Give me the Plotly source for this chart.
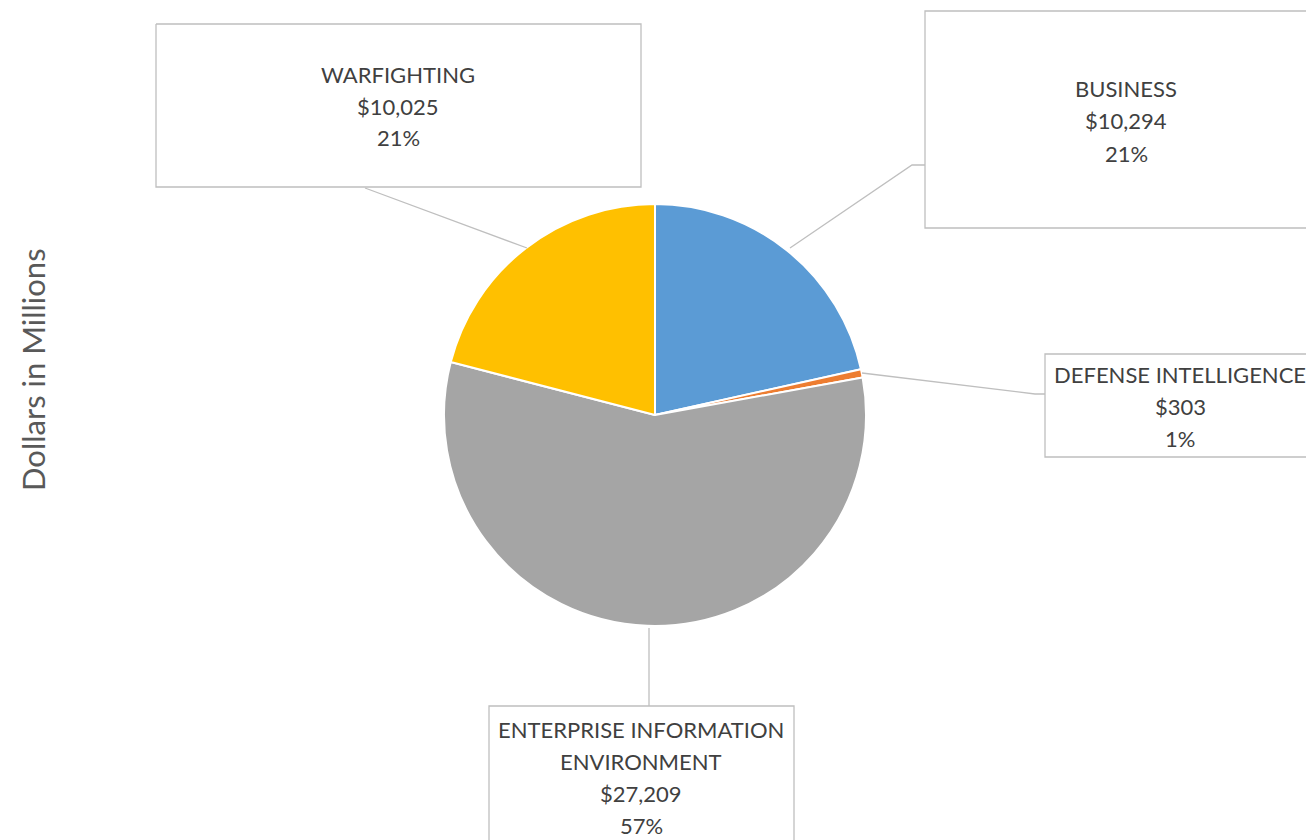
import plotly.graph_objects as go

categories = ["BUSINESS", "DEFENSE INTELLIGENCE", "ENTERPRISE INFORMATION<br>ENVIRONMENT", "WARFIGHTING"]
values = [10294, 303, 27209, 10025]
value_labels = ["$10,294", "$303", "$27,209", "$10,025"]
pct_labels = ["21%", "1%", "57%", "21%"]
colors = ["#5B9BD5", "#ED7D31", "#A5A5A5", "#FFC000"]
axis_title = "Dollars in Millions"

W, H = 1306, 840
def px(x):
    return x / W
def py(y):
    return 1 - y / H

cx, cy, r = 655, 415, 211

fig = go.Figure(go.Pie(
    labels=[c.replace("<br>", " ") for c in categories],
    values=values,
    sort=False,
    direction="clockwise",
    rotation=0,
    marker=dict(colors=colors, line=dict(color="white", width=2)),
    textinfo="none",
    showlegend=False,
    domain=dict(x=[px(cx - r), px(cx + r)], y=[py(cy + r), py(cy - r)]),
))

TXT = "#404040"
FONT = "Lato, Open Sans, sans-serif"
BORDER = "#BFBFBF"

# label box outlines (polyline corners, only the sides visible in the frame), text centre x, first line y
boxes = {
    "WARFIGHTING": ([(156, 24), (641, 24), (641, 187), (156, 187), (156, 24)], 398, 74),
    "BUSINESS": ([(1310, 11), (925, 11), (925, 228), (1310, 228)], 1126, 89),
    "DEFENSE INTELLIGENCE": ([(1310, 354), (1045, 354), (1045, 457), (1310, 457)], 1180, 374),
    "ENTERPRISE INFORMATION<br>ENVIRONMENT": ([(489, 845), (489, 706), (794, 706), (794, 845)], 641, 729),
}
leaders = {
    "WARFIGHTING": [(365, 188), (527, 248)],
    "BUSINESS": [(790, 248), (912, 165), (925, 165)],
    "DEFENSE INTELLIGENCE": [(862, 373), (1035, 394), (1045, 394)],
    "ENTERPRISE INFORMATION<br>ENVIRONMENT": [(649, 628), (649, 706)],
}

def path(pts):
    return "M " + " L ".join(f"{px(x):.5f},{py(y):.5f}" for x, y in pts)

shapes = []
annotations = []
for cat, val, pct in zip(categories, values, pct_labels):
    outline, tx, ty = boxes[cat]
    shapes.append(dict(type="path", xref="paper", yref="paper", path=path(outline),
                       line=dict(color=BORDER, width=1.3)))
    shapes.append(dict(type="path", xref="paper", yref="paper", path=path(leaders[cat]),
                       line=dict(color=BORDER, width=1.3)))
    lines = cat.split("<br>") + [value_labels[categories.index(cat)], pct]
    for i, line in enumerate(lines):
        annotations.append(dict(xref="paper", yref="paper", x=px(tx), y=py(ty + 32 * i),
                                text=line, showarrow=False, xanchor="center", yanchor="middle",
                                font=dict(family=FONT, size=22, color=TXT)))

annotations.append(dict(xref="paper", yref="paper", x=px(33), y=py(370), text=axis_title,
                        textangle=-90, showarrow=False, xanchor="center", yanchor="middle",
                        font=dict(family=FONT, size=31, color="#595959")))

fig.update_layout(
    width=W, height=H,
    margin=dict(l=0, r=0, t=0, b=0),
    paper_bgcolor="white", plot_bgcolor="white",
    shapes=shapes, annotations=annotations,
)

fig.write_html("out.html", config={"displayModeBar": False},
               post_script="document.body.style.margin='0';document.body.style.overflow='hidden';")
